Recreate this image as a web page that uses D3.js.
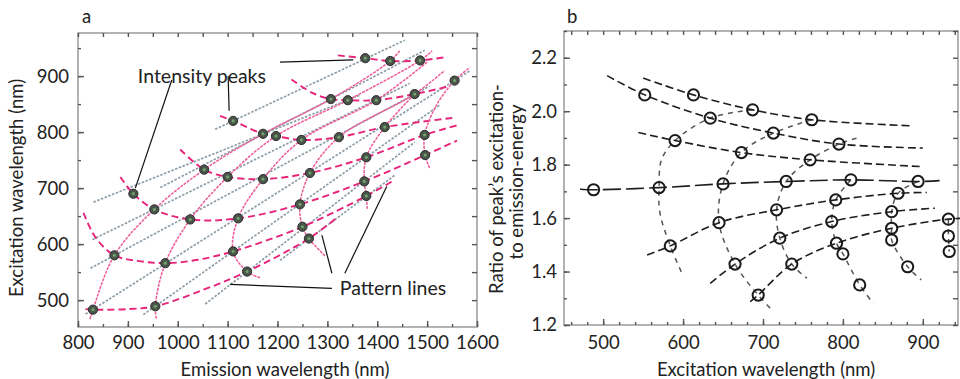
<!DOCTYPE html>
<html>
<head>
<meta charset="utf-8">
<script src="https://cdn.jsdelivr.net/npm/d3@7"></script>
<style>
  body { margin: 0; background: #fff; }
  svg { display: block; font-family: Lato, "Open Sans", sans-serif; }
</style>
</head>
<body>
<svg id="chart" width="960" height="379"></svg>
<script>
// ---- panel a : peak positions [emission nm, excitation nm]
const peaksA = [
  [1376, 932], [1426, 927], [1486, 928], [1555, 892],
  [1307, 859], [1341, 857], [1398, 857], [1475, 868],
  [1111, 820], [1171, 797], [1197, 793], [1248, 786], [1323, 791], [1415, 809], [1495, 795],
  [1053, 733], [1100, 720], [1171, 716], [1265, 727], [1378, 755], [1496, 759],
  [911, 690], [953, 662], [1025, 644], [1121, 646], [1245, 671], [1374, 712], [1378, 686],
  [873, 580], [975, 566], [1111, 587], [1250, 631], [1263, 610],
  [1139, 551], [830, 483], [955, 489]
];

// pink solid curves (same family, steep)
const familyCurvesA = [
  [[824, 466], [830, 483], [873, 580], [953, 662], [1053, 733], [1171, 797], [1307, 859], [1426, 927], [1445, 945]],
  [[957, 467], [955, 489], [975, 566], [1025, 644], [1100, 720], [1197, 793], [1341, 857], [1486, 928], [1510, 945]],
  [[1165, 540], [1139, 551], [1111, 587], [1121, 646], [1171, 716], [1248, 786], [1398, 857], [1500, 925]],
  [[1295, 579], [1263, 610], [1250, 631], [1245, 671], [1265, 727], [1323, 791], [1475, 868], [1535, 910]],
  [[1380, 663], [1378, 686], [1374, 712], [1378, 755], [1415, 809], [1475, 868]],
  [[1505, 736], [1496, 759], [1495, 795], [1520, 850], [1555, 892], [1585, 915]]
];

// pink dashed curves (shallow)
const seriesCurvesA = [
  [[815, 484], [830, 483], [900, 484], [955, 489], [1050, 518], [1139, 551], [1263, 610], [1320, 648]],
  [[811, 656], [835, 612], [873, 580], [920, 570], [975, 566], [1040, 572], [1111, 587], [1250, 631], [1378, 686], [1430, 712]],
  [[885, 720], [911, 690], [953, 662], [1025, 644], [1121, 646], [1245, 671], [1374, 712], [1496, 759], [1560, 785]],
  [[1005, 769], [1053, 733], [1100, 720], [1171, 716], [1265, 727], [1378, 755], [1495, 795], [1560, 812]],
  [[1085, 829], [1111, 820], [1171, 797], [1197, 793], [1248, 786], [1323, 791], [1415, 809], [1558, 826]],
  [[1228, 894], [1270, 870], [1307, 859], [1341, 857], [1398, 857], [1475, 868], [1545, 882]],
  [[1321, 937], [1376, 932], [1426, 927], [1486, 928], [1538, 934]]
];

// grey straight pattern lines
const patternLinesA = [
  [[831, 675], [1365, 866]],
  [[825, 557], [1505, 882]],
  [[815, 475], [1585, 909]],
  [[931, 474], [1525, 848]],
  [[1055, 493], [1475, 782]],
  [[1205, 571], [1435, 723]],
  [[829, 608], [1465, 887]],
  [[965, 701], [1495, 946]],
  [[1075, 805], [1455, 964]]
];

const calloutsA = [
  { text: 'Intensity peaks', at: [920, 888],
    leaders: [[[988, 893], [915, 700]], [[1101, 900], [1103, 838]], [[1205, 925], [1352, 929]]] },
  { text: 'Pattern lines', at: [1325, 510],
    leaders: [[[1309, 548], [1289, 616]], [[1335, 548], [1419, 703]], [[1309, 521], [1105, 528]]] }
];

// ---- panel b : [excitation nm, energy ratio]
const pointsB = [
  [488, 1.706], [570, 1.714], [650, 1.728], [729, 1.737], [810, 1.743], [894, 1.737],
  [552, 2.061], [613, 2.061], [687, 2.005], [761, 1.968], [634, 1.974], [713, 1.918],
  [795, 1.877], [590, 1.890], [673, 1.845], [759, 1.818], [869, 1.693], [791, 1.668],
  [717, 1.631], [645, 1.583], [584, 1.496], [861, 1.624], [786, 1.587], [721, 1.525],
  [665, 1.428], [932, 1.596], [861, 1.562], [792, 1.506], [736, 1.428], [694, 1.312],
  [861, 1.518], [800, 1.466], [821, 1.350], [881, 1.418], [932, 1.533], [933, 1.475]
];

const rowsB = [
  [[505, 2.133], [552, 2.061], [634, 1.974], [713, 1.918], [795, 1.877], [900, 1.862]],
  [[550, 2.124], [613, 2.061], [687, 2.005], [761, 1.968], [888, 1.945]],
  [[544, 1.920], [590, 1.890], [673, 1.845], [759, 1.818], [896, 1.793]],
  [[471, 1.708], [488, 1.706], [570, 1.714], [650, 1.728], [729, 1.737], [810, 1.743], [894, 1.737], [921, 1.740]],
  [[555, 1.462], [584, 1.496], [645, 1.583], [717, 1.631], [791, 1.668], [869, 1.693], [905, 1.696]],
  [[634, 1.356], [665, 1.428], [721, 1.525], [786, 1.587], [861, 1.624], [915, 1.637]],
  [[684, 1.287], [694, 1.312], [736, 1.428], [792, 1.506], [861, 1.562], [932, 1.596], [960, 1.600]]
];

const chainsB = [
  [[687, 2.005], [634, 1.974], [590, 1.890], [573, 1.818], [570, 1.714], [571, 1.620], [584, 1.496], [600, 1.384]],
  [[761, 1.968], [713, 1.918], [673, 1.845], [650, 1.728], [645, 1.583], [665, 1.428], [694, 1.312], [709, 1.263]],
  [[817, 1.899], [795, 1.877], [759, 1.818], [729, 1.737], [717, 1.631], [721, 1.525], [736, 1.428], [755, 1.375]],
  [[810, 1.743], [791, 1.668], [786, 1.587], [792, 1.506], [800, 1.466], [821, 1.350], [838, 1.281]],
  [[894, 1.737], [869, 1.693], [861, 1.624], [861, 1.562], [861, 1.518], [881, 1.418], [898, 1.369]],
  [[932, 1.596], [932, 1.533], [933, 1.475]]
];

const ticksAx = [800, 900, 1000, 1100, 1200, 1300, 1400, 1500, 1600];
const ticksAy = [500, 600, 700, 800, 900];
const ticksBx = [500, 600, 700, 800, 900];
const ticksBy = [1.2, 1.4, 1.6, 1.8, 2.0, 2.2];

const svg = d3.select('#chart');
const FS = 18.5;

const xA = d3.scaleLinear().domain([800, 1600]).range([78, 477]);
const yA = d3.scaleLinear().domain([452, 977]).range([327, 33]);
const xB = d3.scaleLinear().domain([451, 944]).range([564, 958]);
const yB = d3.scaleLinear().domain([1.2, 2.3]).range([325, 31]);

function frame(g, x, y, o) {
  const [x0, x1] = x.range(), [y0, y1] = y.range();
  const style = sel => {
    sel.select('.domain').remove();
    sel.attr('font-size', FS).attr('font-family', null);
    sel.selectAll('line').attr('stroke', '#555').attr('stroke-width', 1.4);
    sel.selectAll('text').attr('fill', '#222');
  };
  g.append('rect').attr('x', x0).attr('y', y1).attr('width', x1 - x0).attr('height', y0 - y1)
    .attr('fill', 'none').attr('stroke', '#a0a0a0').attr('stroke-width', 1.6);
  g.append('g').attr('transform', `translate(0,${y0})`)
    .call(d3.axisBottom(x).tickValues(o.xMajor).tickSize(-6).tickPadding(o.padX).tickFormat(o.fmtX)).call(style);
  g.append('g').attr('transform', `translate(0,${y0})`)
    .call(d3.axisBottom(x).tickValues(o.xMinor).tickSize(-3).tickFormat('')).call(style);
  g.append('g').attr('transform', `translate(0,${y1})`)
    .call(d3.axisTop(x).tickValues(o.xMinor).tickSize(-4).tickFormat('')).call(style);
  g.append('g').attr('transform', `translate(${x0},0)`)
    .call(d3.axisLeft(y).tickValues(o.yMajor).tickSize(-6).tickPadding(o.padY).tickFormat(o.fmtY)).call(style);
  g.append('g').attr('transform', `translate(${x0},0)`)
    .call(d3.axisLeft(y).tickValues(o.yMinor).tickSize(-3).tickFormat('')).call(style);
  g.append('g').attr('transform', `translate(${x1},0)`)
    .call(d3.axisRight(y).tickValues(o.yMinor).tickSize(-5).tickFormat('')).call(style);
}

// ---------- panel a
const ga = svg.append('g');
frame(ga, xA, yA, {
  xMajor: ticksAx, xMinor: d3.range(800, 1601, 50), padX: 9, fmtX: d3.format('d'),
  yMajor: ticksAy, yMinor: d3.range(500, 951, 50), padY: 9, fmtY: d3.format('d')
});

const lineA = d3.line().x(d => xA(d[0])).y(d => yA(d[1])).curve(d3.curveCatmullRom.alpha(0.5));

ga.append('g').selectAll('path').data(patternLinesA).join('path')
  .attr('d', lineA).attr('fill', 'none')
  .attr('stroke', '#8e9ea8').attr('stroke-width', 1.7).attr('stroke-dasharray', '2.5,1.5');

ga.append('g').selectAll('path').data(seriesCurvesA).join('path')
  .attr('d', lineA).attr('fill', 'none')
  .attr('stroke', '#e6247a').attr('stroke-width', 1.9).attr('stroke-dasharray', '7,4');

ga.append('g').selectAll('path').data(familyCurvesA).join('path')
  .attr('d', lineA).attr('fill', 'none')
  .attr('stroke', '#ef5a98').attr('stroke-width', 1.5).attr('stroke-dasharray', '3,1');

const peaks = ga.append('g').selectAll('g').data(peaksA).join('g')
  .attr('transform', d => `translate(${xA(d[0])},${yA(d[1])})`);
peaks.append('circle').attr('r', 4.6).attr('fill', '#4a544a').attr('stroke', '#2c2c2c').attr('stroke-width', 1);
peaks.append('circle').attr('r', 1.6).attr('fill', '#6fa36a');

calloutsA.forEach(c => {
  ga.append('text').attr('x', xA(c.at[0])).attr('y', yA(c.at[1]))
    .attr('font-size', 19.5).attr('fill', '#222').text(c.text);
  ga.append('g').selectAll('line').data(c.leaders).join('line')
    .attr('x1', d => xA(d[0][0])).attr('y1', d => yA(d[0][1]))
    .attr('x2', d => xA(d[1][0])).attr('y2', d => yA(d[1][1]))
    .attr('stroke', '#111').attr('stroke-width', 1.2);
});

ga.append('text').attr('x', 82).attr('y', 23).attr('font-size', FS).attr('fill', '#222').text('a');
ga.append('text').attr('text-anchor', 'middle').attr('transform', 'translate(23,188) rotate(-90)')
  .attr('font-size', FS).attr('fill', '#222').text('Excitation wavelength (nm)');
ga.append('text').attr('text-anchor', 'middle').attr('x', 285).attr('y', 376)
  .attr('font-size', FS).attr('fill', '#222').text('Emission wavelength (nm)');

// ---------- panel b
const gb = svg.append('g');
frame(gb, xB, yB, {
  xMajor: ticksBx, xMinor: d3.range(460, 945, 20), padX: 11, fmtX: d3.format('d'),
  yMajor: ticksBy, yMinor: d3.range(1.2, 2.31, 0.1), padY: 7, fmtY: d3.format('.1f')
});

const lineB = d3.line().x(d => xB(d[0])).y(d => yB(d[1])).curve(d3.curveCatmullRom.alpha(0.5));

gb.append('g').selectAll('path').data(chainsB).join('path')
  .attr('d', lineB).attr('fill', 'none')
  .attr('stroke', '#555').attr('stroke-width', 1.5).attr('stroke-dasharray', '5,5');

gb.append('g').selectAll('path').data(rowsB).join('path')
  .attr('d', lineB).attr('fill', 'none')
  .attr('stroke', '#1e1e1e').attr('stroke-width', 1.6)
  .attr('stroke-dasharray', (d, i) => i === 3 ? '18,5' : '8,4');

gb.append('g').selectAll('circle').data(pointsB).join('circle')
  .attr('cx', d => xB(d[0])).attr('cy', d => yB(d[1])).attr('r', 5.6)
  .attr('fill', 'none').attr('stroke', '#1a1a1a').attr('stroke-width', 2);

gb.append('text').attr('x', 567).attr('y', 23).attr('font-size', FS).attr('fill', '#222').text('b');
gb.append('text').attr('text-anchor', 'middle').attr('transform', 'translate(503,189) rotate(-90)')
  .attr('font-size', FS).attr('fill', '#222').text('Ratio of peak\u2019s excitation-');
gb.append('text').attr('text-anchor', 'middle').attr('transform', 'translate(523,182) rotate(-90)')
  .attr('font-size', FS).attr('fill', '#222').text('to emission-energy');
gb.append('text').attr('text-anchor', 'middle').attr('x', 766).attr('y', 376)
  .attr('font-size', FS).attr('fill', '#222').text('Excitation wavelength (nm)');
</script>
</body>
</html>
